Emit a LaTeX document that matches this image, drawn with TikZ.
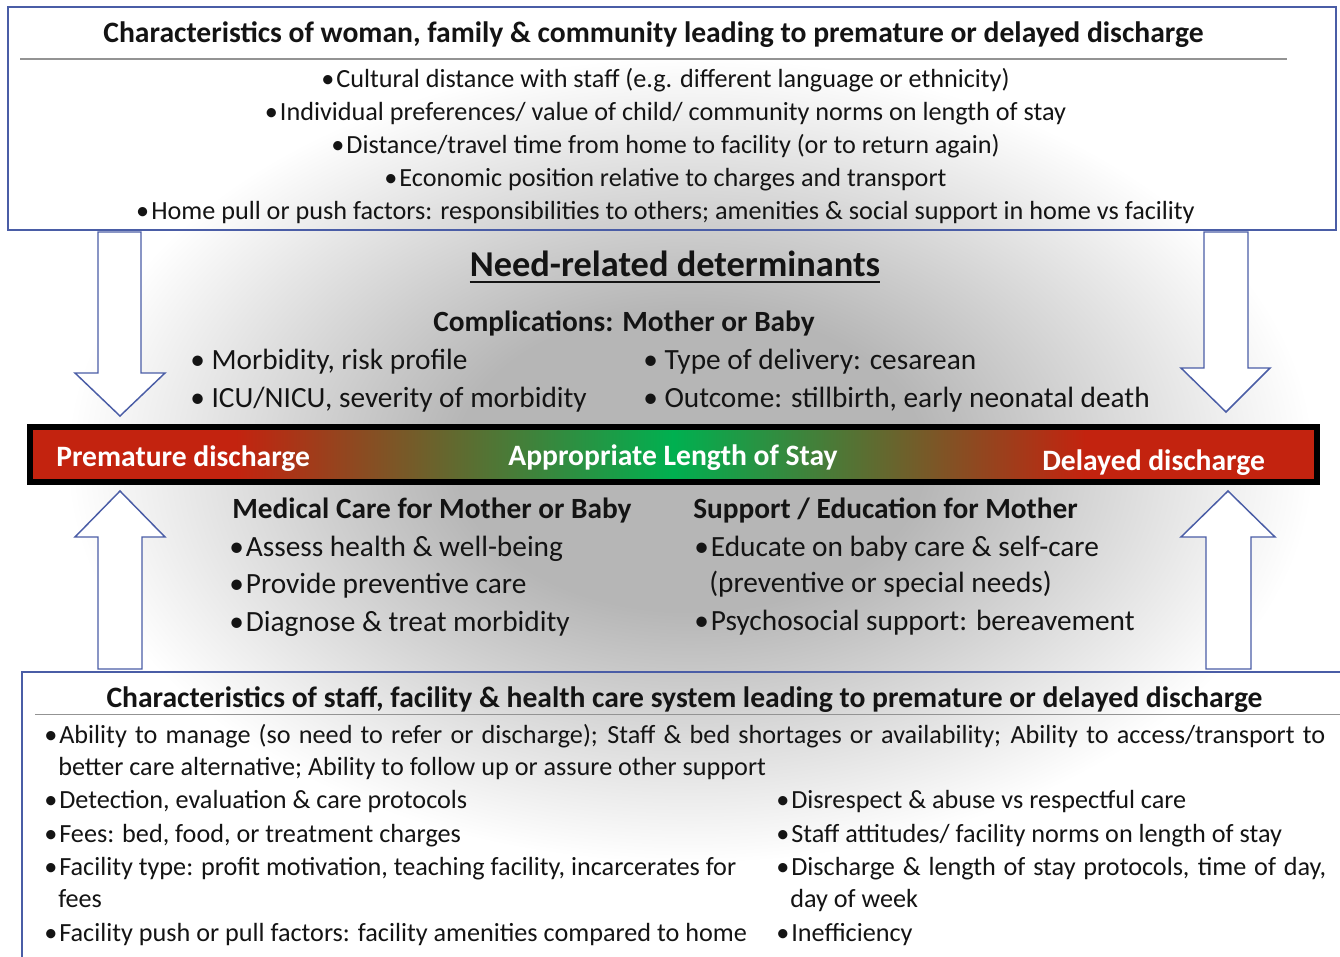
\documentclass[tikz,border=0pt]{standalone}
\usepackage{fontspec}
\setmainfont{Carlito}
\definecolor{glowgray}{HTML}{B6B6B6}
\definecolor{barred}{HTML}{C3230F}
\definecolor{bargreen}{HTML}{00B050}
\definecolor{framebl}{HTML}{4A5DA6}
\definecolor{ink}{HTML}{141414}
\pgfdeclareradialshading{centreglow}{\pgfpoint{0bp}{0bp}}{color(0bp)=(glowgray); color(9bp)=(glowgray); color(24bp)=(white); color(50bp)=(white)}
\pgfdeclarehorizontalshading{stayband}{100bp}{color(0bp)=(barred); color(33bp)=(barred); color(50bp)=(bargreen); color(66bp)=(barred); color(100bp)=(barred)}
\newcommand\itembul{\textbullet\hspace{1.5pt}}
\begin{document}
\begin{tikzpicture}[x=0.75pt, y=-0.75pt,
  txt/.style={inner sep=0pt, text=ink},
  boxtitle/.style={txt, anchor=base, font=\fontsize{22.2}{26}\selectfont\bfseries},
  boxline/.style={txt, font=\fontsize{19.65}{24}\selectfont},
  midhead/.style={txt, font=\fontsize{22}{26}\selectfont\bfseries},
  midline/.style={txt, font=\fontsize{22}{26}\selectfont},
  bighead/.style={txt, font=\fontsize{27.3}{32}\selectfont\bfseries},
  barlabel/.style={inner sep=0pt, text=white, font=\fontsize{22.2}{26}\selectfont\bfseries},
  frame/.style={draw=framebl, line width=1.1pt},
  blockarrow/.style={draw=framebl, fill=white, line width=1.1pt, line join=miter},
  rulegray/.style={draw=gray!85, line width=0.8pt}
]
\useasboundingbox (0,0) rectangle (1340,957);
\clip (0,0) rectangle (1340,957);
\fill[white] (0,0) rectangle (1340,957);
% soft grey glow behind the centre of the figure
\shade[shading=centreglow] (40,40) rectangle (1340,880);

% ---- upper box: woman, family and community ----
\draw[frame] (8,7) rectangle (1336,230);
\node[boxtitle] (toptitle) at (653.5,42) {Characteristics of woman, family \& community leading to premature or delayed discharge};
\draw[rulegray] (20,59) -- (1287,59);
\foreach \entry [count=\i] in {
  {Cultural distance with staff (e.g. different language or ethnicity)},
  {Individual preferences/ value of child/ community norms on length of stay},
  {Distance/travel time from home to facility (or to return again)},
  {Economic position relative to charges and transport},
  {Home pull or push factors: responsibilities to others; amenities \& social support in home vs facility}}
  \node[boxline, anchor=base] (top\i) at (665.5,{87+33*(\i-1)}) {\itembul\entry};

% ---- block arrows ----
\draw[blockarrow] (98,232) -- (141,232) -- (141,373) -- (165,373) -- (120,416) -- (75,373) -- (98,373) -- cycle;
\draw[blockarrow] (1204,232) -- (1248,232) -- (1248,368) -- (1270,368) -- (1226,412) -- (1181,368) -- (1204,368) -- cycle;
\draw[blockarrow] (98,669) -- (142,669) -- (142,537) -- (165,537) -- (120,491) -- (75,537) -- (98,537) -- cycle;
\draw[blockarrow] (1206,669) -- (1251,669) -- (1251,537) -- (1275,537) -- (1228,491) -- (1181,537) -- (1206,537) -- cycle;

% ---- need-related determinants ----
\node[bighead, anchor=base] (need) at (675,276) {Need-related determinants};
\draw[ink, line width=1.5pt] ([yshift=-4.5pt]need.base west) -- ([yshift=-4.5pt]need.base east);
\node[midhead, anchor=base] (compl) at (624,331) {Complications: Mother or Baby};
\node[midline, anchor=base west] (cl1) at (190,369) {\textbullet\ Morbidity, risk profile};
\node[midline, anchor=base west] (cl2) at (190,407) {\textbullet\ ICU/NICU, severity of morbidity};
\node[midline, anchor=base west] (cr1) at (643,369) {\textbullet\ Type of delivery: cesarean};
\node[midline, anchor=base west] (cr2) at (643,407) {\textbullet\ Outcome: stillbirth, early neonatal death};

% ---- length-of-stay band ----
\node[draw=black, line width=4.5pt, shade, shading=stayband, inner sep=0pt,
      minimum width=965.25pt, minimum height=41.25pt] (bar) at (673.5,454.5) {};
\node[barlabel, anchor=base west] (prem) at (56,466) {Premature discharge};
\node[barlabel, anchor=base] (approp) at (673,465) {Appropriate Length of Stay};
\node[barlabel, anchor=base west] (delay) at (1042,470) {Delayed discharge};

% ---- care and support ----
\node[midhead, anchor=base west] (medhd) at (232,518) {Medical Care for Mother or Baby};
\node[midline, anchor=base west] (med1) at (229,556) {\itembul Assess health \& well-being};
\node[midline, anchor=base west] (med2) at (229,593) {\itembul Provide preventive care};
\node[midline, anchor=base west] (med3) at (229,631) {\itembul Diagnose \& treat morbidity};
\node[midhead, anchor=base west] (suphd) at (693,518) {Support / Education for Mother};
\node[midline, anchor=base west] (sup1) at (694,556) {\itembul Educate on baby care \& self-care};
\node[midline, anchor=base west] (sup1b) at (709,592) {(preventive or special needs)};
\node[midline, anchor=base west] (sup2) at (694,630) {\itembul Psychosocial support: bereavement};

% ---- lower box: staff, facility and health care system ----
\draw[frame] (22,672) rectangle (1360,980);
\node[boxtitle] (bottitle) at (684.5,707) {Characteristics of staff, facility \& health care system leading to premature or delayed discharge};
\draw[rulegray] (35,714.5) -- (1360,714.5);
\node[boxline, anchor=base west] (b1) at (44,743) {\makebox[960.75pt][s]{\itembul Ability to manage (so need to refer or discharge); Staff \& bed shortages or availability; Ability to access/transport to}};
\node[boxline, anchor=base west] (b1b) at (58,775) {better care alternative; Ability to follow up or assure other support};
\node[boxline, anchor=base west] (bl1) at (44,808) {\itembul Detection, evaluation \& care protocols};
\node[boxline, anchor=base west] (bl2) at (44,842) {\itembul Fees: bed, food, or treatment charges};
\node[boxline, anchor=base west] (bl3) at (44,875) {\itembul Facility type: profit motivation, teaching facility, incarcerates for};
\node[boxline, anchor=base west] (bl3b) at (58,907) {fees};
\node[boxline, anchor=base west] (bl4) at (44,941) {\itembul Facility push or pull factors: facility amenities compared to home};
\node[boxline, anchor=base west] (br1) at (776,808) {\itembul Disrespect \& abuse vs respectful care};
\node[boxline, anchor=base west] (br2) at (776,842) {\itembul Staff attitudes/ facility norms on length of stay};
\node[boxline, anchor=base west] (br3) at (776,875) {\makebox[412.5pt][s]{\itembul Discharge \& length of stay protocols, time of day,}};
\node[boxline, anchor=base west] (br3b) at (790,907) {day of week};
\node[boxline, anchor=base west] (br4) at (776,941) {\itembul Inefficiency};
\end{tikzpicture}
\end{document}
